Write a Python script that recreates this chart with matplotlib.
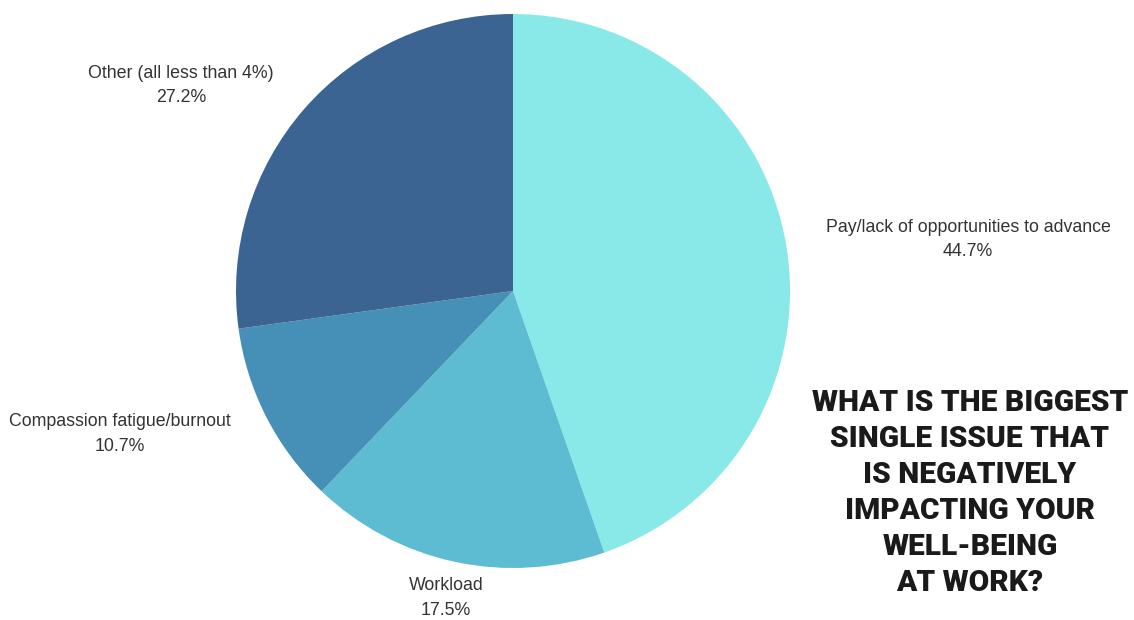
import matplotlib.pyplot as plt

# data
labels = ['Pay/lack of opportunities to advance', 'Workload',
          'Compassion fatigue/burnout', 'Other (all less than 4%)']
values = [44.7, 17.5, 10.7, 27.2]
colors = ['#88E9E8', '#5EBCD2', '#468FB6', '#3C6492']

title_lines = ['WHAT IS THE BIGGEST', 'SINGLE ISSUE THAT', 'IS NEGATIVELY',
               'IMPACTING YOUR', 'WELL-BEING', 'AT WORK?']

# label centres in pixels (x, y of first line)
label_pos = [(968, 227), (446, 586), (120, 422), (181, 73)]

W, H = 1134, 620
fig = plt.figure(figsize=(W / 100, H / 100), dpi=100)
fig.patch.set_facecolor('white')

# pie: centre (513, 291) px, radius 277 px
cx, cy, r = 513, 291, 277
ax = fig.add_axes([(cx - r) / W, (H - cy - r) / H, 2 * r / W, 2 * r / H])
ax.pie(values, colors=colors, startangle=90, counterclock=False, radius=1,
       wedgeprops=dict(linewidth=0))
ax.set_xlim(-1, 1)
ax.set_ylim(-1, 1)
ax.set_aspect('equal')
ax.axis('off')

for lab, val, (x, y) in zip(labels, values, label_pos):
    fig.text(x / W, 1 - y / H, lab, ha='center', va='center',
             fontsize=12.8, color='#333333', family='Liberation Sans')
    fig.text(x / W, 1 - (y + 24.5) / H, f'{val}%', ha='center', va='center',
             fontsize=12.8, color='#333333', family='Liberation Sans')

for i, line in enumerate(title_lines):
    fig.text(970 / W, 1 - (403 + i * 36) / H, line, ha='center', va='center',
             fontsize=21.5, fontweight='black', color='#1a1a1a', family='Roboto')

fig.savefig('out.png', dpi=100)
